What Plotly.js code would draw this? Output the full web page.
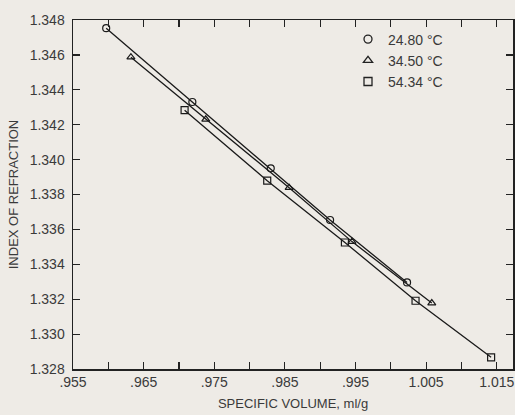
<!DOCTYPE html>
<html>
<head>
<meta charset="utf-8">
<script src="https://cdn.plot.ly/plotly-3.0.1.min.js"></script>
<style>html,body{margin:0;padding:0;background:#eeebe6;}</style>
</head>
<body>
<div id="chart" style="width:515px;height:415px;"></div>
<script>
// 24.80 °C (circles)
const vol2480 = [0.9597, 0.9719, 0.9830, 0.9914, 1.0023];
const n2480   = [1.34753, 1.34330, 1.33950, 1.33654, 1.33296];
// 34.50 °C (triangles)
const vol3450 = [0.9632, 0.9738, 0.9856, 0.9945, 1.0058];
const n3450   = [1.34587, 1.34231, 1.33839, 1.33530, 1.33178];
// 54.34 °C (squares)
const vol5434 = [0.9708, 0.9825, 0.9935, 1.0035, 1.0142];
const n5434   = [1.34283, 1.33879, 1.33525, 1.33191, 1.32867];

const seriesNames = ["24.80 \u00B0C", "34.50 \u00B0C", "54.34 \u00B0C"];
const symbols = ["circle-open", "triangle-up-open", "square-open"];

const xTickVals = [0.955,0.960,0.965,0.970,0.975,0.980,0.985,0.990,0.995,1.000,1.005,1.010,1.015];
const xTickText = [".955","",".965","",".975","",".985","",".995","","1.005","","1.015"];
const yTickVals = [1.328,1.330,1.332,1.334,1.336,1.338,1.340,1.342,1.344,1.346,1.348];
const yTickText = ["1.328","1.330","1.332","1.334","1.336","1.338","1.340","1.342","1.344","1.346","1.348"];

const xs = [vol2480, vol3450, vol5434];
const ys = [n2480, n3450, n5434];
const traces = [];
for (let i = 0; i < 3; i++) {
  traces.push({
    x: xs[i], y: ys[i], mode: "lines+markers", showlegend: false,
    line: {color: "#1a1a1a", width: 1.3},
    marker: {symbol: symbols[i], size: 7, color: "#1a1a1a", line: {width: 1.2}}
  });
}
for (let i = 0; i < 3; i++) {
  traces.push({
    x: [null], y: [null], mode: "markers", name: seriesNames[i],
    marker: {symbol: symbols[i], size: 8, color: "#222", line: {width: 1.3}}
  });
}

const FAM = "Liberation Sans, Arial, sans-serif";
const fnt = {family: FAM, size: 14, color: "#3a3a3a"};
const layout = {
  width: 515, height: 415,
  margin: {l: 72.5, r: 2, t: 19.5, b: 45.5},
  paper_bgcolor: "#eeebe6", plot_bgcolor: "#eeebe6",
  font: fnt,
  showlegend: true,
  legend: {x: 0.625, y: 0.99, xanchor: "left", yanchor: "top", bgcolor: "rgba(0,0,0,0)",
           font: {family: FAM, size: 14, color: "#3a3a3a"}, tracegroupgap: 0},
  xaxis: {
    range: [0.955, 1.0173], showgrid: false, zeroline: false,
    showline: true, linecolor: "#222", linewidth: 1.5, mirror: "ticks",
    ticks: "inside", ticklen: 7, tickwidth: 1.2, tickcolor: "#222",
    tickmode: "array", tickvals: xTickVals, ticktext: xTickText,
    tickfont: fnt,
    title: {text: "SPECIFIC VOLUME, ml/g", font: {family: FAM, size: 13, color: "#3a3a3a"}, standoff: 9}
  },
  yaxis: {
    range: [1.328, 1.348], showgrid: false, zeroline: false,
    showline: true, linecolor: "#222", linewidth: 1.5, mirror: "ticks",
    ticks: "inside", ticklen: 7, tickwidth: 1.2, tickcolor: "#222",
    tickmode: "array", tickvals: yTickVals, ticktext: yTickText,
    tickfont: fnt, ticklabelstandoff: 4,
    title: {text: "INDEX OF REFRACTION", font: {family: FAM, size: 13, color: "#3a3a3a"}, standoff: 8}
  }
};
Plotly.newPlot("chart", traces, layout, {displayModeBar: false, staticPlot: true});
</script>
</body>
</html>
